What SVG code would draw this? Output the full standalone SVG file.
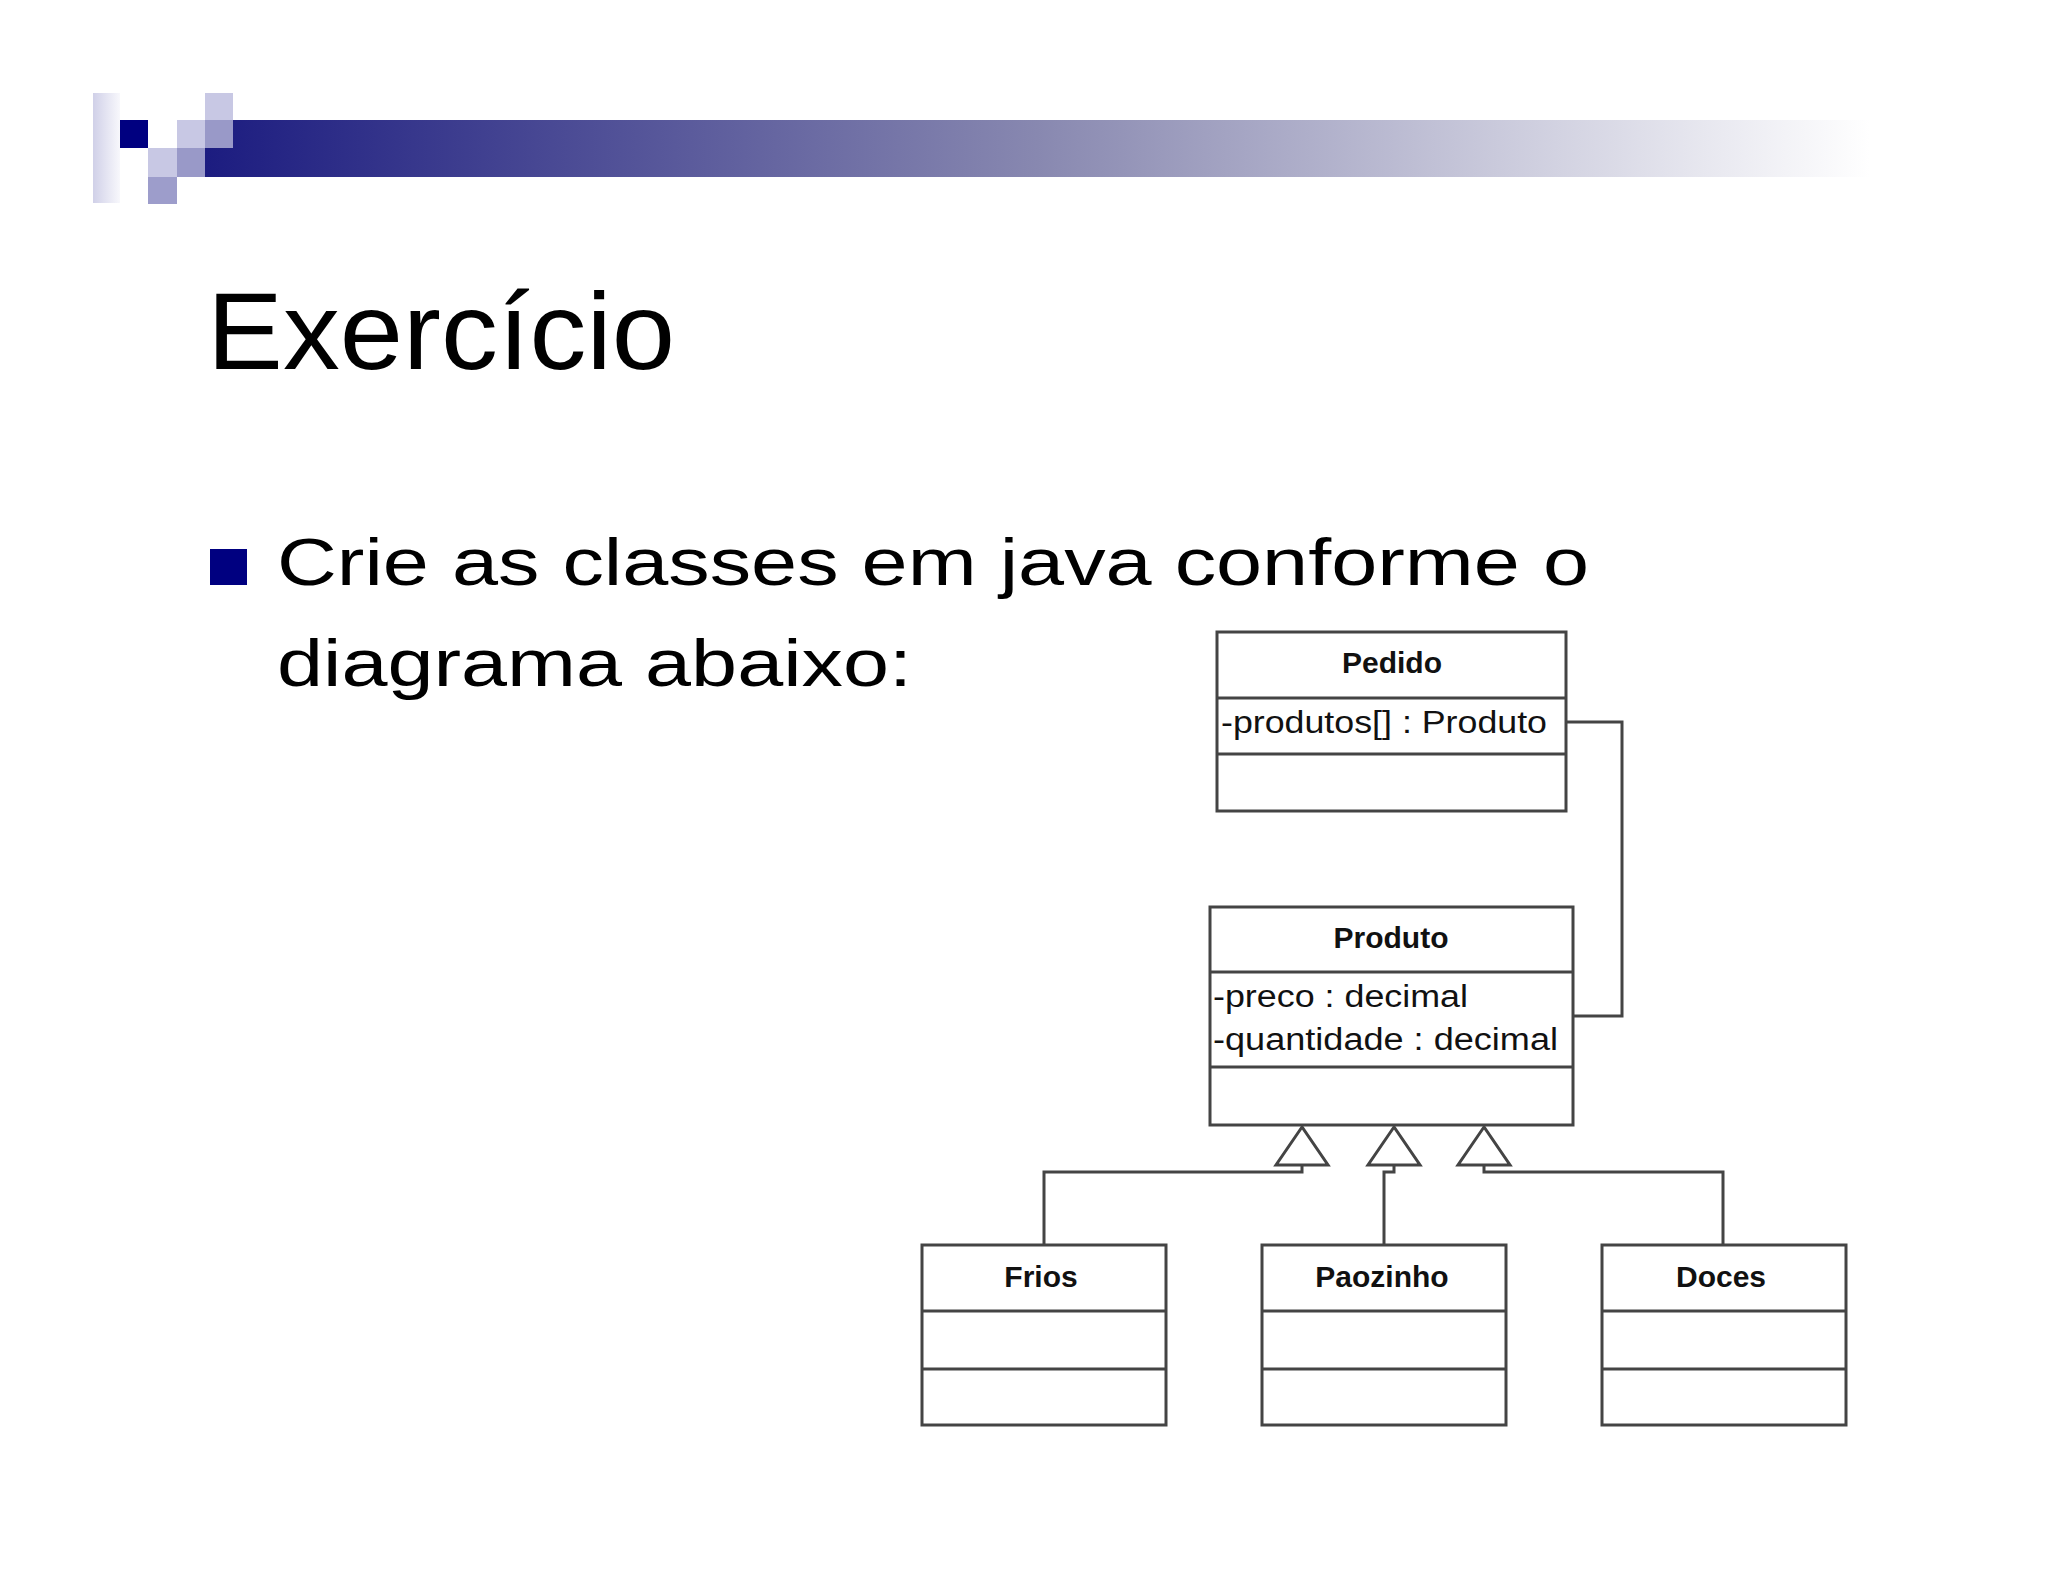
<svg xmlns="http://www.w3.org/2000/svg" width="2048" height="1582" viewBox="0 0 2048 1582">
<style>
.box{fill:#fff;stroke:#444;stroke-width:3}
.ln{stroke:#444;stroke-width:3;fill:none}
.t{font-family:"Liberation Sans",Arial,sans-serif;font-weight:bold;font-size:30px;fill:#111;text-anchor:middle}
.a{font-family:"Liberation Sans",Arial,sans-serif;font-size:31px;fill:#111}
.h{font-family:"Liberation Sans",Arial,sans-serif;fill:#000}
</style>
<defs>
<linearGradient id="bar" x1="0" x2="1" y1="0" y2="0">
<stop offset="0" stop-color="#1c1c80"/><stop offset="0.5" stop-color="#8888b0"/><stop offset="1" stop-color="#ffffff"/>
</linearGradient>
<linearGradient id="strip" x1="0" x2="1" y1="0" y2="0">
<stop offset="0" stop-color="#d0d0e8"/><stop offset="1" stop-color="#f8f8fc"/>
</linearGradient>
</defs>
<rect width="2048" height="1582" fill="#fff"/>
<g id="header">
<rect x="205" y="120" width="1665" height="57" fill="url(#bar)"/>
<rect x="93" y="93" width="27" height="110" fill="url(#strip)"/>
<rect x="120" y="120" width="28" height="28" fill="#000080"/>
<rect x="148" y="148" width="29" height="29" fill="#c8c8e4"/>
<rect x="148" y="177" width="29" height="27" fill="#9d9dcb"/>
<rect x="177" y="120" width="28" height="28" fill="#c8c8e4"/>
<rect x="177" y="148" width="28" height="29" fill="#9999c8"/>
<rect x="205" y="93" width="28" height="27" fill="#c8c8e4"/>
<rect x="205" y="120" width="28" height="28" fill="#9999c8"/>
</g>
<g id="title">
<text class="h" x="207" y="369" font-size="110" textLength="468" lengthAdjust="spacingAndGlyphs">Exercício</text>
<rect x="210" y="549" width="37" height="36" fill="#000080"/>
<text class="h" x="277" y="585" font-size="66" textLength="1312" lengthAdjust="spacingAndGlyphs">Crie as classes em java conforme o</text>
<text class="h" x="277" y="686" font-size="66" textLength="635" lengthAdjust="spacingAndGlyphs">diagrama abaixo:</text>
</g>
<g id="connectors">
<polyline class="ln" points="1566,722 1622,722 1622,1016 1573,1016"/>
<polyline class="ln" points="1044,1245 1044,1172 1302,1172 1302,1165"/>
<polyline class="ln" points="1384,1245 1384,1172 1394,1172 1394,1165"/>
<polyline class="ln" points="1723,1245 1723,1172 1484,1172 1484,1165"/>
<polygon class="box" points="1302,1127 1276,1165 1328,1165"/>
<polygon class="box" points="1394,1127 1368,1165 1420,1165"/>
<polygon class="box" points="1484,1127 1458,1165 1510,1165"/>
</g>
<g id="Pedido">
<rect class="box" x="1217" y="632" width="349" height="179"/>
<line class="ln" x1="1217" y1="698" x2="1566" y2="698"/>
<line class="ln" x1="1217" y1="754" x2="1566" y2="754"/>
<text class="t" x="1392" y="673">Pedido</text>
<text class="a" x="1221" y="733" textLength="326" lengthAdjust="spacingAndGlyphs">-produtos[] : Produto</text>
</g>
<g id="Produto">
<rect class="box" x="1210" y="907" width="363" height="218"/>
<line class="ln" x1="1210" y1="972" x2="1573" y2="972"/>
<line class="ln" x1="1210" y1="1067" x2="1573" y2="1067"/>
<text class="t" x="1391" y="948">Produto</text>
<text class="a" x="1213" y="1007" textLength="255" lengthAdjust="spacingAndGlyphs">-preco : decimal</text>
<text class="a" x="1213" y="1050" textLength="345" lengthAdjust="spacingAndGlyphs">-quantidade : decimal</text>
</g>
<g id="Frios">
<rect class="box" x="922" y="1245" width="244" height="180"/>
<line class="ln" x1="922" y1="1311" x2="1166" y2="1311"/>
<line class="ln" x1="922" y1="1369" x2="1166" y2="1369"/>
<text class="t" x="1041" y="1287">Frios</text>
</g>
<g id="Paozinho">
<rect class="box" x="1262" y="1245" width="244" height="180"/>
<line class="ln" x1="1262" y1="1311" x2="1506" y2="1311"/>
<line class="ln" x1="1262" y1="1369" x2="1506" y2="1369"/>
<text class="t" x="1382" y="1287">Paozinho</text>
</g>
<g id="Doces">
<rect class="box" x="1602" y="1245" width="244" height="180"/>
<line class="ln" x1="1602" y1="1311" x2="1846" y2="1311"/>
<line class="ln" x1="1602" y1="1369" x2="1846" y2="1369"/>
<text class="t" x="1721" y="1287">Doces</text>
</g>
</svg>
